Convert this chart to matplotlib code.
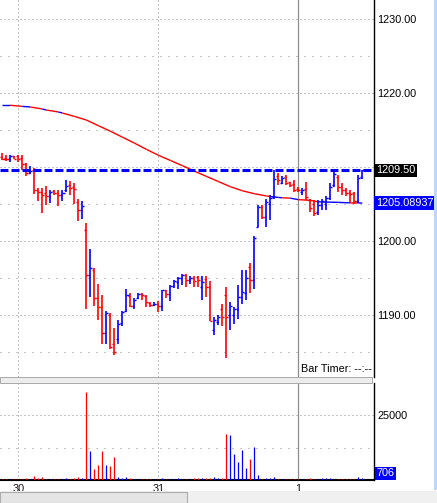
import matplotlib
matplotlib.use('Agg')
import matplotlib.pyplot as plt
import matplotlib.transforms as mtransforms
from matplotlib.collections import LineCollection
from matplotlib.patches import Rectangle

plt.rcParams['font.family'] = ['Liberation Sans', 'DejaVu Sans']

# ---- data (bar index 0..90) ----
day_ticks = [4, 39, 74]
day_labels = ['30', '31', '1']

opens = [1211.3, 1211.2, 1211.0, 1211.4, 1211.4, 1211.2, 1210.3, 1209.1, 1209.5, 1206.9,
         1206.6, 1206.5, 1206.0, 1206.7, 1206.5, 1206.2, 1206.8, 1207.5, 1207.2, 1205.2,
         1204.1, 1201.5, 1195.4, 1196.0, 1192.3, 1191.0, 1187.5, 1190.0, 1186.0, 1186.7,
         1188.9, 1190.5, 1192.5, 1191.2, 1192.2, 1192.8, 1192.5, 1191.6, 1191.3, 1191.5,
         1191.2, 1193.3, 1192.8, 1193.9, 1194.4, 1194.9, 1195.4, 1194.7, 1195.0, 1195.1,
         1193.8, 1194.8, 1193.8, 1188.0, 1189.0, 1190.8, 1192.6, 1189.9, 1190.0, 1190.8,
         1192.4, 1193.0, 1196.5, 1194.7, 1201.9, 1204.6, 1203.2, 1205.0, 1205.9, 1208.8,
         1207.8, 1208.6, 1207.9, 1207.6, 1207.0, 1206.6, 1207.0, 1205.5, 1205.0, 1203.9,
         1204.8, 1205.0, 1205.8, 1207.5, 1208.6, 1207.2, 1206.8, 1206.5, 1206.4, 1205.4,
         1208.6]
highs = [1211.8, 1211.6, 1211.6, 1211.5, 1211.6, 1211.6, 1210.5, 1210.1, 1209.8, 1207.1,
         1207.1, 1207.4, 1206.9, 1206.9, 1206.8, 1206.8, 1208.2, 1208.1, 1207.8, 1205.6,
         1205.4, 1202.4, 1198.9, 1196.3, 1194.2, 1192.6, 1190.5, 1190.2, 1188.2, 1189.3,
         1190.5, 1193.5, 1192.9, 1192.2, 1193.0, 1192.9, 1192.7, 1191.7, 1191.7, 1191.8,
         1193.4, 1193.4, 1194.0, 1194.7, 1195.1, 1195.5, 1195.5, 1195.2, 1195.2, 1195.2,
         1195.2, 1195.2, 1194.5, 1189.7, 1190.0, 1191.5, 1193.8, 1191.7, 1191.1, 1194.0,
         1196.0, 1196.0, 1197.0, 1200.6, 1204.8, 1204.8, 1205.6, 1206.2, 1209.5, 1209.1,
         1208.7, 1208.9, 1208.0, 1208.2, 1207.3, 1207.1, 1208.0, 1205.7, 1205.5, 1205.5,
         1205.7, 1206.0, 1207.8, 1209.3, 1208.9, 1207.8, 1207.1, 1206.9, 1206.6, 1208.9,
         1209.6]
lows = [1210.9, 1210.8, 1210.7, 1211.0, 1210.7, 1209.6, 1208.7, 1209.0, 1206.3, 1205.4,
        1203.7, 1204.8, 1205.1, 1206.2, 1204.7, 1205.4, 1206.6, 1206.2, 1205.0, 1202.7,
        1203.0, 1190.8, 1192.4, 1191.2, 1189.3, 1186.0, 1186.0, 1185.3, 1184.6, 1186.1,
        1188.5, 1190.3, 1191.0, 1190.8, 1192.1, 1192.0, 1191.0, 1191.1, 1191.2, 1190.4,
        1190.5, 1192.2, 1191.8, 1193.6, 1193.5, 1194.0, 1193.8, 1194.2, 1193.8, 1193.8,
        1192.0, 1192.4, 1189.1, 1187.3, 1188.6, 1188.5, 1184.1, 1187.9, 1188.8, 1189.4,
        1191.5, 1192.0, 1193.0, 1193.5, 1201.8, 1203.0, 1201.9, 1202.8, 1205.7, 1207.5,
        1207.6, 1207.5, 1207.2, 1206.6, 1206.6, 1206.2, 1205.5, 1203.9, 1203.3, 1203.5,
        1204.2, 1204.2, 1205.5, 1207.3, 1206.6, 1206.2, 1206.0, 1205.1, 1205.0, 1205.1,
        1208.4]
closes = [1211.1, 1211.0, 1211.4, 1211.1, 1211.1, 1210.4, 1209.1, 1209.4, 1206.9, 1206.6,
          1206.2, 1206.0, 1206.6, 1206.4, 1206.2, 1206.5, 1207.4, 1207.1, 1207.0, 1204.1,
          1204.7, 1195.3, 1196.3, 1192.3, 1191.1, 1187.5, 1190.2, 1185.7, 1185.0, 1188.7,
          1190.3, 1192.7, 1191.2, 1192.0, 1192.8, 1192.6, 1191.7, 1191.3, 1191.5, 1191.2,
          1193.3, 1192.8, 1193.9, 1194.5, 1194.9, 1195.4, 1194.7, 1195.0, 1194.5, 1194.7,
          1194.4, 1193.8, 1189.2, 1189.3, 1189.7, 1189.7, 1189.7, 1191.2, 1190.8, 1192.4,
          1193.1, 1195.0, 1194.7, 1200.3, 1204.5, 1203.2, 1205.2, 1205.8, 1208.4, 1208.2,
          1208.5, 1207.8, 1207.5, 1206.9, 1206.8, 1206.9, 1205.9, 1204.4, 1203.8, 1204.8,
          1205.3, 1205.8, 1207.3, 1209.0, 1207.2, 1206.8, 1206.4, 1206.3, 1205.3, 1208.5,
          1209.5]
volumes = [400, 400, 400, 400, 400, 450, 800, 500, 1500, 900,
           1150, 500, 400, 400, 400, 500, 800, 400, 800, 1150,
           800, 34000, 11150, 4230, 5770, 11150, 5770, 5380, 8850, 1150,
           800, 1150, 800, 400, 400, 400, 400, 400, 400, 400,
           800, 400, 400, 400, 800, 400, 400, 400, 800, 800,
           800, 800, 800, 1150, 800, 800, 17700, 17300, 10000, 7050,
           11540, 4740, 8080, 12560, 1920, 400, 950, 950, 1000, 400,
           400, 400, 400, 400, 400, 400, 400, 600, 400, 400,
           800, 600, 600, 400, 400, 400, 400, 400, 400, 1300,
           706]

# moving average read at selected bars
ma_bars = [0, 2, 5, 7, 10, 11, 14, 15, 18, 21, 24, 27, 30, 33, 36, 39, 42, 45, 48, 51,
           54, 57, 60, 63, 66, 67, 69, 70, 72, 74, 77, 79, 84, 87, 89, 90]
ma_vals = [1218.30, 1218.30, 1218.15, 1218.07, 1217.80, 1217.66, 1217.40, 1217.26, 1216.80,
           1216.31, 1215.55, 1214.80, 1214.00, 1213.20, 1212.35, 1211.55, 1210.85, 1210.15,
           1209.40, 1208.70, 1208.00, 1207.30, 1206.75, 1206.35, 1206.05, 1205.97, 1205.85,
           1205.80, 1205.75, 1205.55, 1205.45, 1205.25, 1205.18, 1205.11, 1205.10, 1205.09]
ma_flat_spans = [(0, 2), (5, 7), (10, 11), (14, 15), (67, 70), (72, 74), (79, 87), (89, 90)]
ma_last = '1205.08937'
last_price = 1209.50

price_ticks = [1185, 1190, 1195, 1200, 1205, 1210, 1215, 1220, 1225, 1230]
price_tick_labels = ['', '1190.00', '', '1200.00', '', '', '', '1220.00', '', '1230.00']
price_major = [1190, 1200, 1210, 1220, 1230]
vol_ticks = [12500, 25000]
vol_tick_labels = ['', '25000']
vol_major = [25000]

RED = '#ff0000'
BLUE = '#0000ff'
GRID = '#8a8a8a'
W, H = 437, 503

fig = plt.figure(figsize=(W / 100, H / 100), dpi=100)
fig.patch.set_facecolor('white')


def px_axes(x0, y0, x1, y1):
    return fig.add_axes([x0 / W, 1 - y1 / H, (x1 - x0) / W, (y1 - y0) / H])


ax = px_axes(0, 0, 374, 377)
axv = px_axes(0, 383, 374, 480)

xmin, xmax = -0.575, (374 - 2.3) / 4
n = len(closes)
cols = [BLUE if closes[i] >= opens[i] else RED for i in range(n)]
idx = list(range(n))

for a, ticks, labels, major in ((ax, price_ticks, price_tick_labels, price_major),
                                (axv, vol_ticks, vol_tick_labels, vol_major)):
    a.set_xlim(xmin, xmax)
    for s in ('top', 'left', 'bottom'):
        a.spines[s].set_visible(False)
    a.spines['right'].set_color('black')
    a.spines['right'].set_linewidth(1.0)
    a.yaxis.tick_right()
    a.tick_params(axis='y', length=0, pad=2.2, labelsize=7.8, labelcolor='black')
    a.tick_params(axis='x', length=0)
    a.set_xticks([])
    a.set_yticks(ticks)
    a.set_yticklabels(labels)
    # dotted grid: dense dots on major levels, sparse on the rest
    for t in ticks:
        ls = (0, (1, 3)) if t in major else (0, (1, 7))
        a.axhline(t, color=GRID, linestyle=ls, linewidth=0.72, zorder=0.5)
    for d in day_ticks[:2]:
        a.axvline(d, color=GRID, linestyle=(0, (1, 3)), linewidth=0.72, zorder=0.5)
    a.axvline(day_ticks[2], color='#8c8c8c', linewidth=0.9, zorder=0.5)

# price panel
ax.set_ylim(1200 - (377 - 240.7) / 7.4, 1200 + 240.7 / 7.4)

ax.vlines(idx, lows, highs, colors=cols, linewidth=1.2, zorder=3)
ax.hlines(opens, [i - 0.55 for i in idx], idx, colors=cols, linewidth=1.0, zorder=3)
ax.hlines(closes, idx, [i + 0.55 for i in idx], colors=cols, linewidth=1.0, zorder=3)

segs, seg_cols = [], []
for k in range(len(ma_bars) - 1):
    segs.append([(ma_bars[k], ma_vals[k]), (ma_bars[k + 1], ma_vals[k + 1])])
    flat = any(a0 <= ma_bars[k] and ma_bars[k + 1] <= a1 for a0, a1 in ma_flat_spans)
    seg_cols.append(BLUE if flat else RED)
ax.add_collection(LineCollection(segs, colors=seg_cols, linewidths=1.0, zorder=2))

ax.axhline(last_price, color=BLUE, linewidth=2.2, linestyle=(0, (2.6, 1.0)),
           dash_capstyle='butt', zorder=4)

tr = mtransforms.blended_transform_factory(ax.transAxes, ax.transData)
ax.text(1.006, last_price, f'{last_price:.2f}', transform=tr, ha='left', va='center',
        fontsize=7.8, color='white', clip_on=False,
        bbox=dict(boxstyle='square,pad=0.12', facecolor='black', edgecolor='none'))
ax.text(1.006, ma_vals[-1], ma_last, transform=tr, ha='left', va='center',
        fontsize=7.8, color='white', clip_on=False,
        bbox=dict(boxstyle='square,pad=0.2', facecolor=BLUE, edgecolor='none'))

# volume panel
axv.set_ylim(0, (480 - 383) * 25000 / 65)
axv.spines['bottom'].set_visible(True)
axv.spines['bottom'].set_color('black')
axv.spines['bottom'].set_linewidth(1.5)
axv.vlines(idx, 0, volumes, colors=cols, linewidth=0.9, zorder=3)
trv = mtransforms.blended_transform_factory(axv.transAxes, axv.transData)
axv.text(1.006, 700, str(volumes[-1]), transform=trv, ha='left', va='bottom',
         fontsize=7.8, color='white', clip_on=False,
         bbox=dict(boxstyle='square,pad=0.15', facecolor=BLUE, edgecolor='none'))

for d, lab in zip(day_ticks, day_labels):
    x = (2.3 + 4 * d) / W
    fig.text(x, 1 - 489 / H, lab, ha='center', va='center', fontsize=7.8, color='#1a1010')

fig.text(372 / W, 1 - 369 / H, 'Bar Timer: --:--', ha='right', va='center',
         fontsize=7.8, color='black')

# window chrome: panel splitter, scrollbar, right edge
fig.add_artist(Rectangle((0, 1 - 383 / H), 372 / W, 6 / H, transform=fig.transFigure,
                         facecolor='#ececec', edgecolor='#a8a8a8', linewidth=0.7, zorder=10))
fig.add_artist(Rectangle((0, 0), 1, 12 / H, transform=fig.transFigure,
                         facecolor='#f0f0f0', edgecolor='none', zorder=10))
fig.add_artist(Rectangle((0, 0), 187 / W, 11.5 / H, transform=fig.transFigure,
                         facecolor='#e5e5e5', edgecolor='#acacac', linewidth=0.8, zorder=11))
fig.add_artist(Rectangle((434 / W, 13 / H), 3 / W, 1 - 13 / H, transform=fig.transFigure,
                         facecolor='#bcd8f5', edgecolor='none', zorder=10))

fig.savefig('out.png', dpi=100)
